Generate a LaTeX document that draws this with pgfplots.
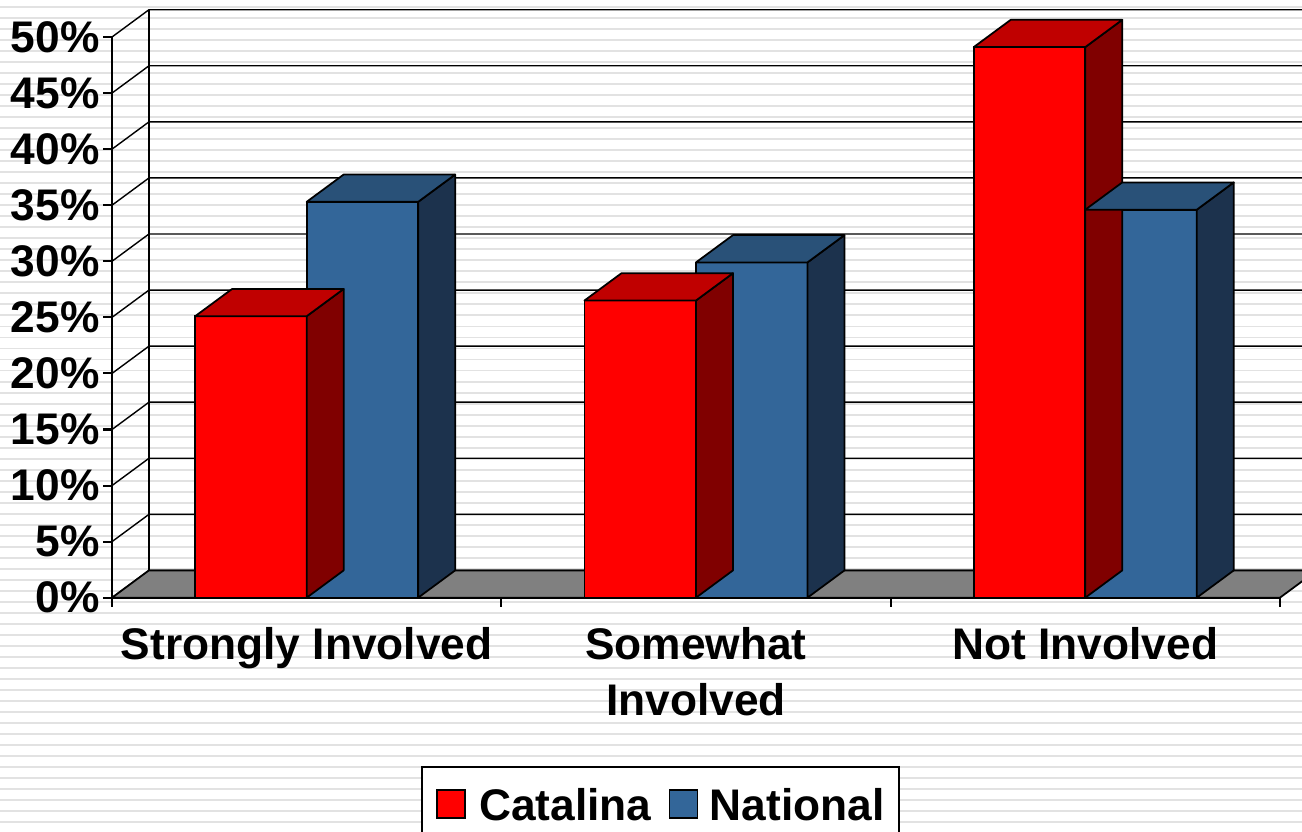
\documentclass[border=0pt]{standalone}
\usepackage{fontspec}
\setmainfont{Liberation Sans}
\usepackage{pgfplots}
\pgfplotsset{compat=1.18}
\usepackage{pgfplotstable}

\definecolor{catfront}{HTML}{FF0000}
\definecolor{cattop}{HTML}{C00000}
\definecolor{catside}{HTML}{800000}
\definecolor{natfront}{HTML}{336699}
\definecolor{nattop}{HTML}{295178}
\definecolor{natside}{HTML}{1C324D}
\definecolor{stripe}{HTML}{E2E2E2}
\definecolor{floorgray}{HTML}{808080}

\pgfplotstableread{
cat catalina national
0   25.1     35.3
1   26.5     29.9
2   49.1     34.6
}\involvement

\newcommand{\lblfont}{\fontsize{12.6}{15.9}\selectfont\bfseries}

\begin{document}
\begin{tikzpicture}
\useasboundingbox (0,0) rectangle (13.02,8.31);
\clip (0,0) rectangle (13.02,8.31);
\fill[white] (0,0) rectangle (13.02,8.31);
% striped slide background
\foreach \k in {0,...,75} {
  \fill[stripe] (0,{8.245-0.11*\k}) rectangle (13.02,{8.225-0.11*\k});
}
\begin{axis}[
  at={(1.12cm,2.333cm)}, anchor=south west,
  x=3.893cm, y=0.11213cm,
  xmin=-0.5, xmax=2.5, ymin=0, ymax=50,
  clip=false,
  axis lines=left,
  axis line style={-, line width=0.6pt},
  tick align=outside,
  xtick={0,1,2},
  xticklabels={Strongly Involved,{Somewhat\\Involved},Not Involved},
  minor xtick={-0.5,0.5,1.5,2.5},
  major x tick style={draw=none},
  minor tick length=0.09cm,
  major tick length=0.087cm,
  ytick={0,5,...,50},
  yticklabel={\pgfmathprintnumber{\tick}\%},
  /pgf/number format/assume math mode=true,
  tick style={black, line width=0.6pt},
  tick label style={font=\lblfont},
  xticklabel style={align=center, yshift=-0.085cm},
  yticklabel style={inner xsep=0.03cm},
]
% side wall diagonals and back wall gridlines
\pgfplotsinvokeforeach{0,5,...,50}{
  \draw[line width=0.4pt] (axis cs:-0.5,#1) -- ++(0.37cm,0.273cm) -- ++(12.0cm,0cm);
}
\draw[line width=0.5pt] (axis cs:-0.5,0) ++(0.37cm,0.273cm) -- ++(0cm,5.6065cm);
% floor
\filldraw[fill=floorgray, draw=black, line width=0.5pt]
  (axis cs:-0.5,0) -- (axis cs:2.5,0) -- ++(0.37cm,0.273cm) -- ++(-11.68cm,0cm) -- cycle;

% Catalina front faces
\addplot[ybar, bar width=1.115cm, bar shift=-0.5575cm, fill=catfront, draw=black, line width=0.5pt]
  table[x=cat, y=catalina] {\involvement};
% Catalina top and side faces
\addplot[scatter, only marks, mark=text, text mark={}, forget plot,
  visualization depends on={rawy \as \val},
  scatter/@pre marker code/.code={
    \filldraw[fill=catside, draw=black, line width=0.5pt, line join=round]
      (0cm,0cm) -- (0.37cm,0.273cm) -- (0.37cm,{0.273cm-\val*0.11213cm}) -- (0cm,{-\val*0.11213cm}) -- cycle;
    \filldraw[fill=cattop, draw=black, line width=0.5pt, line join=round]
      (-1.115cm,0cm) -- (0cm,0cm) -- (0.37cm,0.273cm) -- (-0.745cm,0.273cm) -- cycle;
  },
  scatter/@post marker code/.code={}]
  table[x=cat, y=catalina] {\involvement};

% National front faces
\addplot[ybar, bar width=1.115cm, bar shift=0.5575cm, fill=natfront, draw=black, line width=0.5pt]
  table[x=cat, y=national] {\involvement};
% National top and side faces
\addplot[scatter, only marks, mark=text, text mark={}, forget plot,
  visualization depends on={rawy \as \val},
  scatter/@pre marker code/.code={
    \filldraw[fill=natside, draw=black, line width=0.5pt, line join=round]
      (1.115cm,0cm) -- (1.485cm,0.273cm) -- (1.485cm,{0.273cm-\val*0.11213cm}) -- (1.115cm,{-\val*0.11213cm}) -- cycle;
    \filldraw[fill=nattop, draw=black, line width=0.5pt, line join=round]
      (0cm,0cm) -- (1.115cm,0cm) -- (1.485cm,0.273cm) -- (0.37cm,0.273cm) -- cycle;
  },
  scatter/@post marker code/.code={}]
  table[x=cat, y=national] {\involvement};
\end{axis}

% legend
\draw[line width=0.45pt, fill=white] (4.22,0.64) rectangle (8.99,-0.12);
\filldraw[fill=catfront, draw=black, line width=0.45pt] (4.37,0.41) rectangle (4.65,0.13);
\node[anchor=base west, inner sep=0pt, font=\lblfont] at (4.785,0.105) {Catalina};
\filldraw[fill=natfront, draw=black, line width=0.45pt] (6.695,0.41) rectangle (6.975,0.13);
\node[anchor=base west, inner sep=0pt, font=\lblfont] at (7.09,0.105) {National};
\end{tikzpicture}
\end{document}
